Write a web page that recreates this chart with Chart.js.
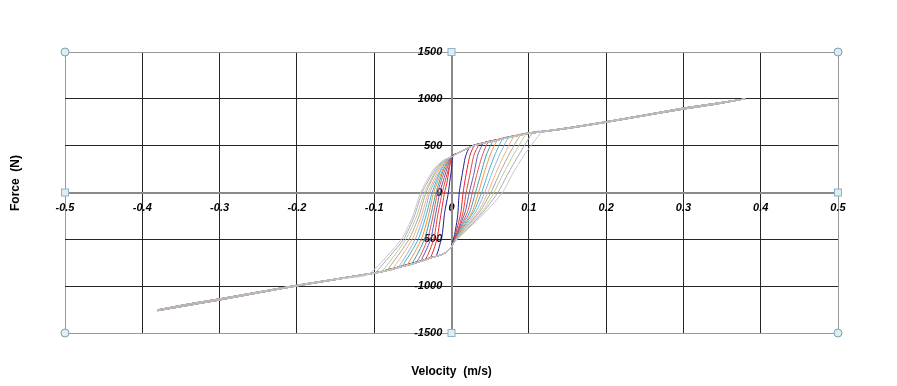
<!DOCTYPE html>
<html>
<head>
<meta charset="utf-8">
<script src="https://cdn.jsdelivr.net/npm/chart.js@4.4.1/dist/chart.umd.min.js"></script>
<style>
  html, body { margin: 0; padding: 0; background: #fff; }
  #wrap { position: relative; width: 897px; height: 386px; }
</style>
</head>
<body>
<div id="wrap"><canvas id="loops"></canvas></div>
<script>
const xTicks = [-0.5, -0.4, -0.3, -0.2, -0.1, 0, 0.1, 0.2, 0.3, 0.4, 0.5];
const yTicks = [-1500, -1000, -500, 0, 500, 1000, 1500];
const xTitle = 'Velocity  (m/s)';
const yTitle = 'Force  (N)';

// shared tails of every loop [velocity, force]
const lowerOut = [[-0.38,-1262],[-0.34,-1205],[-0.3,-1148],[-0.25,-1072],[-0.2,-998],[-0.15,-930],[-0.1,-862],[-0.09,-846],[-0.067,-798],[-0.045,-748],[-0.024,-692],[-0.012,-662],[-0.006,-635],[0,-585]];
const topOut = [[0.0,380],[0.007,420],[0.015,455],[0.024,490],[0.04,528],[0.06,565],[0.08,603],[0.1,636],[0.12,655],[0.15,690],[0.2,756],[0.25,828],[0.3,901],[0.34,950],[0.38,1000]];
const topBack = [[0.38,1000],[0.34,940],[0.3,890],[0.25,820],[0.2,749],[0.15,683],[0.12,650],[0.1,630],[0.08,598],[0.06,560],[0.04,524],[0.024,486],[0.015,450],[0.007,415],[0.0,378]];
const lowerBack = [[-0.012,-657],[-0.024,-687],[-0.045,-742],[-0.067,-792],[-0.09,-842],[-0.1,-858],[-0.15,-924],[-0.2,-990],[-0.25,-1062],[-0.3,-1135],[-0.34,-1190],[-0.38,-1252]];

// branch where force rises (right) and falls (left), innermost loop first
const rightBranches = [
  [[0.000,-570],[0.004,-450],[0.008,-250],[0.010,0],[0.014,200],[0.018,380],[0.024,490]],
  [[0.001,-565],[0.006,-420],[0.012,-220],[0.015,0],[0.019,200],[0.024,400],[0.030,505]],
  [[0.001,-560],[0.008,-410],[0.015,-210],[0.019,0],[0.024,200],[0.029,400],[0.036,518]],
  [[0.001,-560],[0.009,-400],[0.018,-200],[0.023,0],[0.029,200],[0.034,400],[0.042,530]],
  [[0.002,-555],[0.010,-400],[0.021,-200],[0.027,0],[0.033,200],[0.040,400],[0.048,542]],
  [[0.002,-555],[0.011,-400],[0.024,-200],[0.031,0],[0.038,200],[0.045,400],[0.054,553]],
  [[0.002,-550],[0.012,-400],[0.027,-200],[0.035,0],[0.042,200],[0.050,400],[0.060,565]],
  [[0.002,-550],[0.013,-400],[0.029,-200],[0.039,0],[0.047,200],[0.056,400],[0.067,578]],
  [[0.002,-550],[0.014,-400],[0.032,-200],[0.043,0],[0.052,200],[0.062,400],[0.074,591]],
  [[0.002,-548],[0.015,-400],[0.035,-200],[0.047,0],[0.057,200],[0.068,400],[0.082,606]],
  [[0.002,-548],[0.016,-400],[0.037,-200],[0.051,0],[0.062,200],[0.074,400],[0.090,620]],
  [[0.002,-545],[0.017,-400],[0.040,-200],[0.055,0],[0.067,200],[0.080,400],[0.097,632]],
  [[0.002,-545],[0.019,-400],[0.042,-200],[0.060,0],[0.073,200],[0.087,400],[0.106,644]],
  [[0.002,-543],[0.020,-400],[0.045,-200],[0.066,0],[0.079,200],[0.094,400],[0.117,652]]
];
const leftBranches = [
  [[0.002,400],[0.000,250],[-0.002,133],[-0.004,0],[-0.009,-222],[-0.012,-450],[-0.017,-614],[-0.020,-680]],
  [[0.001,395],[-0.003,250],[-0.006,100],[-0.009,0],[-0.014,-250],[-0.019,-500],[-0.028,-702]],
  [[0.001,392],[-0.004,250],[-0.012,0],[-0.018,-250],[-0.023,-500],[-0.034,-718]],
  [[0.000,388],[-0.006,250],[-0.015,0],[-0.021,-250],[-0.027,-500],[-0.040,-735]],
  [[0.000,384],[-0.008,250],[-0.018,0],[-0.024,-250],[-0.031,-500],[-0.046,-750]],
  [[-0.001,380],[-0.010,250],[-0.020,0],[-0.027,-250],[-0.035,-500],[-0.052,-764]],
  [[-0.002,376],[-0.011,250],[-0.023,0],[-0.030,-250],[-0.039,-500],[-0.058,-778]],
  [[-0.003,372],[-0.013,250],[-0.025,0],[-0.033,-250],[-0.043,-500],[-0.064,-791]],
  [[-0.004,368],[-0.014,250],[-0.028,0],[-0.036,-250],[-0.047,-500],[-0.070,-805]],
  [[-0.005,364],[-0.016,250],[-0.030,0],[-0.039,-250],[-0.051,-500],[-0.077,-820]],
  [[-0.006,360],[-0.018,250],[-0.033,0],[-0.042,-250],[-0.055,-500],[-0.084,-835]],
  [[-0.007,356],[-0.019,250],[-0.035,0],[-0.045,-250],[-0.059,-500],[-0.091,-850]],
  [[-0.008,352],[-0.021,250],[-0.038,0],[-0.048,-250],[-0.062,-500],[-0.099,-863]],
  [[-0.010,348],[-0.023,250],[-0.040,0],[-0.050,-250],[-0.065,-500],[-0.108,-875]]
];
const loopColors = ['#1c1c8a','#e8202a','#e0403c','#5a5ab8','#e05050','#3a9aa8','#f0923e',
                    '#4bacc6','#8db3e2','#f5b078','#a6a6a6','#b8d08a','#b3a2c7','#c8c8c8'];

function buildLoop(i) {
    const r = rightBranches[i];
    const l = leftBranches[i];
    const rEnd = r[r.length - 1][0];
    const lStart = l[0][0];
    const lEnd = l[l.length - 1][0];
    const pts = [].concat(
        lowerOut, r,
        topOut.filter(p => p[0] > rEnd),
        topBack.filter(p => p[0] > lStart),
        l,
        lowerBack.filter(p => p[0] < lEnd)
    );
    return pts.map(p => ({ x: p[0], y: p[1] }));
}

function fade(hex, a) {
    const n = parseInt(hex.slice(1), 16);
    return 'rgba(' + (n >> 16) + ',' + ((n >> 8) & 255) + ',' + (n & 255) + ',' + a + ')';
}

// tails are shared by all loops, so they are drawn see-through
const datasets = loopColors.map((c, i) => ({
    label: 'Loop ' + (i + 1),
    data: buildLoop(i),
    borderColor: c,
    backgroundColor: c,
    borderWidth: 1,
    pointRadius: 0,
    showLine: true,
    tension: 0.2,
    fill: false,
    order: loopColors.length - i,
    segment: {
        borderColor: s => (Math.abs(s.p0.parsed.x) > 0.11 && Math.abs(s.p1.parsed.x) > 0.11) ? fade(c, 0.5) : c
    }
}));

const tickFont = { family: '"Liberation Sans", Arial, sans-serif', size: 11, weight: 'bold', style: 'italic' };

function gridColor(ctx, edges) {
    const v = ctx.tick ? ctx.tick.value : null;
    if (v === null) return '#262626';
    if (edges.some(e => Math.abs(v - e) < 1e-9)) return '#999999';
    return '#262626';
}

const decor = {
    id: 'decor',
    afterDraw(chart) {
        const c = chart.ctx;
        const a = chart.chartArea;
        c.save();
        c.fillStyle = '#000';
        c.font = 'bold 12px "Liberation Sans", Arial, sans-serif';
        c.textAlign = 'center';
        c.textBaseline = 'middle';
        c.fillText(xTitle, (a.left + a.right) / 2, 372);
        c.translate(16, 183);
        c.rotate(-Math.PI / 2);
        c.fillText(yTitle, 0, 0);
        c.restore();

        // selection handles
        const midX = chart.scales.x.getPixelForValue(0);
        const midY = chart.scales.y.getPixelForValue(0);
        c.save();
        c.lineWidth = 1;
        c.fillStyle = '#dcedf3';
        c.strokeStyle = '#7f9fb3';
        [[a.left, a.top], [a.right, a.top], [a.left, a.bottom], [a.right, a.bottom]].forEach(p => {
            c.beginPath();
            c.arc(p[0], p[1], 4, 0, Math.PI * 2);
            c.fill();
            c.stroke();
        });
        c.strokeStyle = '#8fb2cc';
        [[midX, a.top], [midX, a.bottom], [a.left, midY], [a.right, midY]].forEach(p => {
            c.fillRect(p[0] - 3.5, p[1] - 3.5, 7, 7);
            c.strokeRect(p[0] - 3.5, p[1] - 3.5, 7, 7);
        });
        c.restore();
    }
};

new Chart(document.getElementById('loops').getContext('2d'), {
    type: 'scatter',
    data: { datasets: datasets },
    plugins: [decor],
    options: {
        responsive: true,
        maintainAspectRatio: false,
        animation: false,
        layout: { padding: { left: 65, right: 59, top: 52, bottom: 53 } },
        plugins: {
            legend: { display: false },
            tooltip: { enabled: false }
        },
        scales: {
            x: {
                type: 'linear',
                min: -0.5,
                max: 0.5,
                position: { y: 0 },
                afterBuildTicks: s => { s.ticks = xTicks.map(v => ({ value: v })); },
                ticks: {
                    font: tickFont,
                    color: '#000',
                    padding: 9,
                    maxRotation: 0,
                    autoSkip: false,
                    callback: v => String(Math.round(v * 10) / 10)
                },
                grid: {
                    color: ctx => gridColor(ctx, [-0.5, 0.5, 0]),
                    lineWidth: 1,
                    drawTicks: false
                },
                border: { display: true, color: '#8a8a8a', width: 2 }
            },
            y: {
                type: 'linear',
                min: -1500,
                max: 1500,
                position: { x: 0 },
                afterBuildTicks: s => { s.ticks = yTicks.map(v => ({ value: v })); },
                ticks: {
                    font: tickFont,
                    color: '#000',
                    autoSkip: false,
                    // labels sit right on the axis line here, so pad with spaces
                    callback: v => String(v) + '   '
                },
                grid: {
                    color: ctx => gridColor(ctx, [-1500, 1500, 0]),
                    lineWidth: 1,
                    drawTicks: false
                },
                border: { display: true, color: '#8a8a8a', width: 2 }
            }
        }
    }
});
</script>
</body>
</html>
